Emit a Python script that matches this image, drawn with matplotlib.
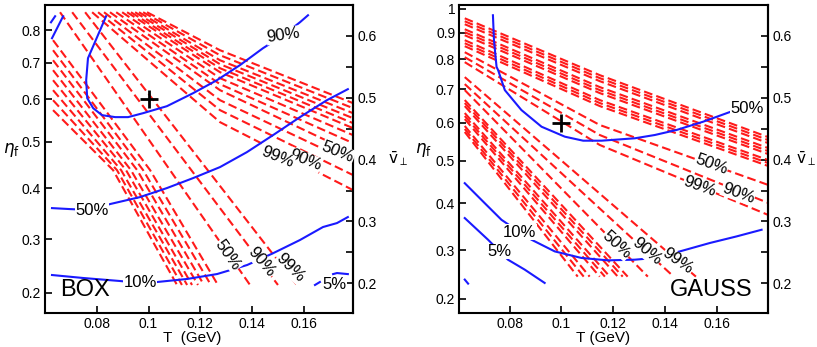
import matplotlib
matplotlib.use('Agg')
import matplotlib.pyplot as plt
import numpy as np

plt.rcParams['font.family'] = ['Liberation Sans', 'DejaVu Sans']
plt.rcParams['mathtext.fontset'] = 'dejavusans'

# ---------------- BOX panel (x: T in GeV, y: mean v_perp) ----------------
box_eta_ticks = [0.2, 0.3, 0.4, 0.5, 0.6, 0.7, 0.8]
box_eta_at_v = [0.1848, 0.2716, 0.3535, 0.4288, 0.4973, 0.557, 0.6092]

box_c90_T = [0.0836, 0.0801, 0.0766, 0.0759, 0.0763, 0.0786, 0.082, 0.0871, 0.0921, 0.0979,
             0.1071, 0.1172, 0.1264, 0.1353, 0.1442, 0.152, 0.1585, 0.1616]
box_c90_v = [0.6318, 0.5979, 0.564, 0.5284, 0.4994, 0.4832, 0.4719, 0.4687, 0.4687, 0.4751,
             0.4864, 0.5074, 0.5284, 0.5527, 0.5801, 0.601, 0.6221, 0.6334]
box_c50_T = [0.0627, 0.0697, 0.0782, 0.0851, 0.0967, 0.1071, 0.1172, 0.1276, 0.138, 0.1481,
             0.1585, 0.1689, 0.177]
box_c50_v = [0.3216, 0.32, 0.3184, 0.3281, 0.3394, 0.354, 0.3701, 0.3879, 0.4121, 0.4396,
             0.4687, 0.4961, 0.5139]
box_c10_T = [0.0627, 0.0747, 0.089, 0.0967, 0.1033, 0.1149, 0.1265, 0.1381, 0.1481, 0.1585,
             0.1674, 0.1728, 0.177]
box_c10_v = [0.2134, 0.2086, 0.2037, 0.2005, 0.2021, 0.207, 0.215, 0.2296, 0.2486, 0.27,
             0.291, 0.2974, 0.3071]
box_c5_T = [0.1643, 0.1662, np.nan, 0.1713, 0.1728, 0.177]
box_c5_v = [0.1973, 0.2021, np.nan, 0.2149, 0.2166, 0.2149]
box_corner_T = [0.0627, 0.067, np.nan, 0.0623, 0.0639]
box_corner_v = [0.5963, 0.6318, np.nan, 0.622, 0.6318]

# steep red family: outer lines (99, 90, 50 %)
box_outer_T = [[0.0755, 0.1573], [0.0705, 0.15], [0.0658, 0.1392]]
box_outer_v = [[0.6383, 0.1973], [0.6383, 0.1973], [0.6383, 0.1973]]
# steep red family: inner bundle (left edge -> middle -> bottom)
box_inner_T0 = 0.0631
box_inner_v0 = [0.48, 0.4961, 0.5123, 0.5284, 0.5446, 0.5607, 0.5769, 0.5931]
box_inner_Tmid = [0.0863, 0.0878, 0.0894, 0.0913, 0.0932, 0.0956, 0.0979, 0.1006]
box_inner_vmid = 0.383
box_inner_Tend = [0.111, 0.1129, 0.1149, 0.1168, 0.1191, 0.1214, 0.1241, 0.1268]
box_inner_vend = 0.1973
# shallow red family (top -> middle -> right edge)
box_flat_T0 = [0.0994, 0.0979, 0.0963, 0.0948, 0.0932, 0.0917, 0.0898, 0.0875, 0.0851,
               0.0828, 0.0805, 0.0782]
box_flat_v0 = 0.6383
box_flat_Tmid = 0.1276
box_flat_vmid = [0.5769, 0.5688, 0.5607, 0.5543, 0.5478, 0.5414, 0.5317, 0.522, 0.5123,
                 0.4961, 0.48, 0.4606]
box_flat_Tend = 0.179
box_flat_vend = [0.4913, 0.4832, 0.4751, 0.467, 0.459, 0.4509, 0.4396, 0.4267, 0.4105,
                 0.3944, 0.375, 0.3507]

box_labels = [  # text, T, v, rotation
    ('90%', 0.152, 0.601, 8), ('50%', 0.0782, 0.3184, 0),
    ('10%', 0.0967, 0.2005, 0), ('5%', 0.172, 0.1973, 0),
    ('50%', 0.1307, 0.2457, -55), ('90%', 0.1438, 0.2344, -50),
    ('99%', 0.1547, 0.2247, -45),
    ('50%', 0.1732, 0.4121, -22), ('90%', 0.1605, 0.3992, -22),
    ('99%', 0.15, 0.4041, -22)]

# ---------------- GAUSS panel ----------------
gauss_eta_ticks = [0.2, 0.3, 0.4, 0.5, 0.6, 0.7, 0.8, 0.9, 1.0]
gauss_eta_at_v = [0.1748, 0.2532, 0.3297, 0.3984, 0.4597, 0.514, 0.5624, 0.6055, 0.644]

gauss_c50_T = [0.0735, 0.0739, 0.0749, 0.0755, 0.0781, 0.0845, 0.0923, 0.1013, 0.1084,
               0.1155, 0.1284, 0.1361, 0.1445, 0.1548, 0.1651]
gauss_c50_v = [0.6334, 0.5931, 0.55, 0.5447, 0.5124, 0.4802, 0.4532, 0.4371, 0.4306,
               0.4306, 0.4345, 0.4398, 0.4479, 0.4613, 0.4769]
gauss_c10_T = [0.0626, 0.0703, 0.0768, 0.0839, 0.0884, 0.0974, 0.1077, 0.118, 0.1284,
               0.1361, 0.1458, 0.1574, 0.1677, 0.1774]
gauss_c10_v = [0.3619, 0.3297, 0.3027, 0.2826, 0.2705, 0.2516, 0.241, 0.2371, 0.2382,
               0.241, 0.2516, 0.2652, 0.2758, 0.2866]
gauss_c5_T = [0.0626, 0.0716, 0.0761, 0.0793, 0.0858, 0.0935, np.nan, 0.0626, 0.0639]
gauss_c5_v = [0.3055, 0.2705, 0.2516, 0.2382, 0.2221, 0.2006, np.nan, 0.206, 0.1995]

gauss_up_T = [0.0626, 0.1148, 0.1798]
gauss_up_v0 = [0.6285, 0.6237, 0.6189, 0.6108, 0.606, 0.6011, 0.5931, 0.5882, 0.5834,
               0.5737, 0.5656, 0.5576]
gauss_up_vmid = [0.5366, 0.5318, 0.5269, 0.5173, 0.5124, 0.5076, 0.4963, 0.4915, 0.4866,
                 0.456, 0.4398, 0.4237]
gauss_up_vend = [0.4366, 0.4318, 0.4269, 0.4189, 0.414, 0.4092, 0.3995, 0.3947, 0.3899,
                 0.3593, 0.3302, 0.3108]
gauss_low_T0 = 0.0626
gauss_low_v0 = [0.5334, 0.5221, 0.5124, 0.4963, 0.4915, 0.4866, 0.4753, 0.4705, 0.4656,
                0.4544, 0.4495, 0.4447]
gauss_low_vend = 0.2108
gauss_low_Tend = [0.152, 0.1434, 0.1334, 0.1256, 0.1237, 0.1218, 0.1187, 0.1168, 0.1148,
                  0.1109, 0.1086, 0.1063]

gauss_labels = [
    ('50%', 0.1717, 0.4829, 0), ('10%', 0.0839, 0.2826, 0),
    ('5%', 0.0761, 0.2516, 0),
    ('50%', 0.158, 0.3915, -20), ('99%', 0.1535, 0.3565, -20),
    ('90%', 0.1683, 0.3458, -20),
    ('50%', 0.1213, 0.2624, -42), ('90%', 0.1329, 0.2516, -40),
    ('99%', 0.1451, 0.2355, -35)]

v_ticks = [0.2, 0.3, 0.4, 0.5, 0.6]
v_minor = [0.25, 0.35, 0.45, 0.55]

RED = '#ff1a1a'
BLUE = '#1a1aff'
dash = dict(color=RED, lw=1.5, dashes=(4.2, 2.0), zorder=2)
solid = dict(color=BLUE, lw=1.5, zorder=3)


def frame(ax, xlim, eta_ticks, eta_pos, eta_lx, xlabel, xl_x, vr_x):
    ax.set_xlim(*xlim)
    ax.set_ylim(0.152, 0.65)
    ax.set_xticks([0.08, 0.1, 0.12, 0.14, 0.16], ['0.08', '0.1', '0.12', '0.14', '0.16'])
    ax.set_yticks(eta_pos, ['%g' % e for e in eta_ticks])
    ax.tick_params(direction='in', length=5, width=1.2, labelsize=10, pad=3)
    for s in ax.spines.values():
        s.set_linewidth(1.5)
    sec = ax.secondary_yaxis('right')
    sec.set_yticks(v_ticks, ['%g' % v for v in v_ticks])
    sec.set_yticks(v_minor, minor=True)
    sec.tick_params(which='both', direction='in', length=5, width=1.2, labelsize=10, pad=3)
    sec.spines['right'].set_linewidth(1.5)
    ax.set_xlabel(xlabel, fontsize=11)
    ax.xaxis.set_label_coords(xl_x, -0.057)
    ax.set_ylabel(r'$\eta_{\rm f}$', fontsize=12, rotation=0)
    ax.yaxis.set_label_coords(eta_lx, 0.5)
    ax.text(vr_x, 0.5, r'$\bar{\rm v}_{\perp}$', transform=ax.transAxes, fontsize=11,
            ha='center', va='center')


def labels(ax, items):
    for txt, t, v, rot in items:
        ax.text(t, v, txt, color='k', fontsize=12, rotation=rot, ha='center', va='center',
                rotation_mode='anchor', zorder=4,
                bbox=dict(fc='white', ec='none', pad=0.3))


fig = plt.figure(figsize=(8.17, 3.47), dpi=100)
ax1 = fig.add_axes([0.0551, 0.098, 0.377, 0.8876])
ax2 = fig.add_axes([0.5622, 0.098, 0.3782, 0.8876])

# BOX
for T, v in zip(box_outer_T, box_outer_v):
    ax1.plot(T, v, **dash)
for v0, tm, te in zip(box_inner_v0, box_inner_Tmid, box_inner_Tend):
    ax1.plot([box_inner_T0, tm, te], [v0, box_inner_vmid, box_inner_vend], **dash)
for t0, vm, ve in zip(box_flat_T0, box_flat_vmid, box_flat_vend):
    ax1.plot([t0, box_flat_Tmid, box_flat_Tend], [box_flat_v0, vm, ve], **dash)
ax1.plot(box_c90_T, box_c90_v, **solid)
ax1.plot(box_c50_T, box_c50_v, **solid)
ax1.plot(box_c10_T, box_c10_v, **solid)
ax1.plot(box_c5_T, box_c5_v, **solid)
ax1.plot(box_corner_T, box_corner_v, **solid)
ax1.plot([0.1], [box_eta_at_v[4]], marker='+', ms=13, mew=2, color='k', zorder=5)
labels(ax1, box_labels)
ax1.text(0.05, 0.04, 'BOX', transform=ax1.transAxes, fontsize=17, ha='left', va='bottom')
frame(ax1, (0.06, 0.179), box_eta_ticks, box_eta_at_v, -0.11, 'T  (GeV)', 0.477, 1.146)

# GAUSS
for v0, vm, ve in zip(gauss_up_v0, gauss_up_vmid, gauss_up_vend):
    ax2.plot(gauss_up_T, [v0, vm, ve], **dash)
for v0, te in zip(gauss_low_v0, gauss_low_Tend):
    ax2.plot([gauss_low_T0, te], [v0, gauss_low_vend], **dash)
ax2.plot(gauss_c50_T, gauss_c50_v, **solid)
ax2.plot(gauss_c10_T, gauss_c10_v, **solid)
ax2.plot(gauss_c5_T, gauss_c5_v, **solid)
ax2.plot([0.1], [gauss_eta_at_v[4]], marker='+', ms=13, mew=2, color='k', zorder=5)
labels(ax2, gauss_labels)
ax2.text(0.95, 0.04, 'GAUSS', transform=ax2.transAxes, fontsize=17, ha='right', va='bottom')
frame(ax2, (0.0605, 0.18), gauss_eta_ticks, gauss_eta_at_v, -0.115, 'T (GeV)', 0.465, 1.122)

fig.savefig('out.png', dpi=100)
